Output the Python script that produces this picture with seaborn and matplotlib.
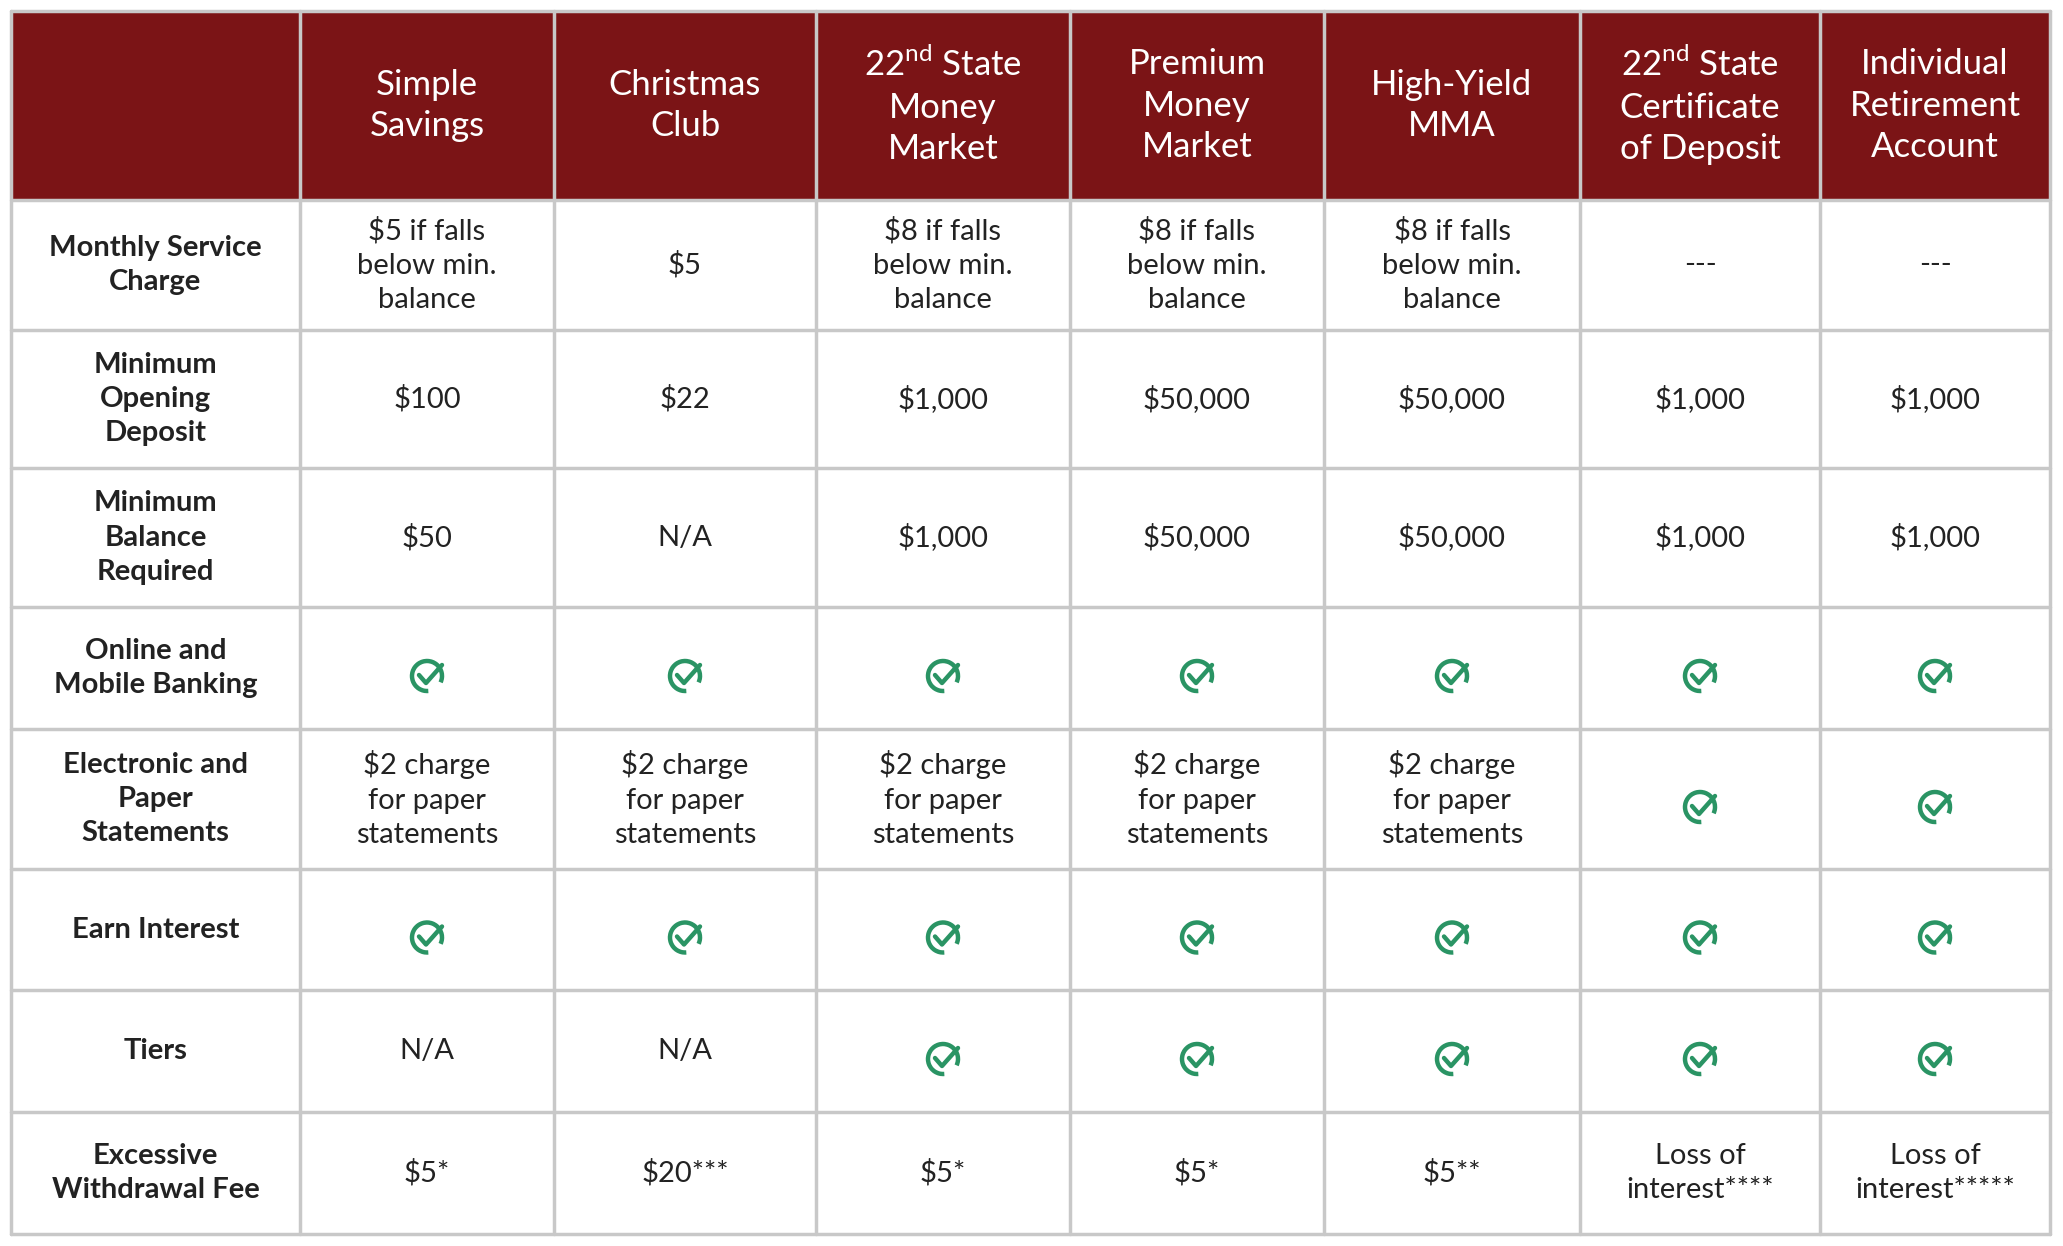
import matplotlib
matplotlib.use('Agg')
import matplotlib.pyplot as plt
import seaborn as sns
from matplotlib.patches import Rectangle, Arc

sns.set_style("white")
plt.rcParams['font.family'] = 'Lato'
plt.rcParams['mathtext.fontset'] = 'custom'
plt.rcParams['mathtext.rm'] = 'Lato'

# table content
columns = ["Simple\nSavings", "Christmas\nClub", "22$^{\\rm nd}$ State\nMoney\nMarket",
           "Premium\nMoney\nMarket", "High-Yield\nMMA", "22$^{\\rm nd}$ State\nCertificate\nof Deposit",
           "Individual\nRetirement\nAccount"]
row_labels = ["Monthly Service\nCharge", "Minimum\nOpening\nDeposit", "Minimum\nBalance\nRequired",
              "Online and\nMobile Banking", "Electronic and\nPaper\nStatements", "Earn Interest",
              "Tiers", "Excessive\nWithdrawal Fee"]
below = "$8 if falls\nbelow min.\nbalance"
paper = "$2 charge\nfor paper\nstatements"
CHECK = "check"
cells = [
    ["$5 if falls\nbelow min.\nbalance", "$5", below, below, below, "---", "---"],
    ["$100", "$22", "$1,000", "$50,000", "$50,000", "$1,000", "$1,000"],
    ["$50", "N/A", "$1,000", "$50,000", "$50,000", "$1,000", "$1,000"],
    [CHECK] * 7,
    [paper, paper, paper, paper, paper, CHECK, CHECK],
    [CHECK] * 7,
    ["N/A", "N/A", CHECK, CHECK, CHECK, CHECK, CHECK],
    ["$5*", "$20***", "$5*", "$5*", "$5**", "Loss of\ninterest****", "Loss of\ninterest*****"],
]

col_edges = [11, 300, 554, 816, 1070, 1324, 1580, 1820, 2050]
row_edges = [11, 200, 330, 468, 607, 729, 869, 990, 1112, 1234]

HEADER = "#7b1416"
GRID = "#c8c8c8"
GREEN = "#2a9464"
TEXT = "#222222"

fig = plt.figure(figsize=(20.63, 12.46), dpi=100)
ax = fig.add_axes([0, 0, 1, 1])
ax.set_xlim(0, 2063)
ax.set_ylim(1246, 0)
ax.axis('off')

ax.add_patch(Rectangle((col_edges[0], row_edges[0]), col_edges[-1] - col_edges[0],
                       row_edges[1] - row_edges[0], facecolor=HEADER, edgecolor='none'))
for x in col_edges:
    c = GRID if x in (col_edges[0], col_edges[-1]) else GRID
    ax.plot([x, x], [row_edges[0], row_edges[-1]], color=c, lw=2.5, zorder=3)
for y in row_edges:
    ax.plot([col_edges[0], col_edges[-1]], [y, y], color=GRID, lw=2.5, zorder=3)


def draw_check(cx, cy, r=15):
    ax.add_patch(Arc((cx, cy), 2 * r, 2 * r, theta1=-275, theta2=25,
                     color=GREEN, lw=3.2, zorder=4))
    ax.plot([cx - 8, cx - 1, cx + 15], [cy - 1, cy + 7, cy - 11], color=GREEN, lw=3.2,
            solid_capstyle='round', solid_joinstyle='round', zorder=4)


hy = (row_edges[0] + row_edges[1]) / 2
for j, name in enumerate(columns):
    cx = (col_edges[j + 1] + col_edges[j + 2]) / 2
    ax.text(cx, hy, name, ha='center', va='center', color='white', fontsize=25,
            linespacing=1.35)

for i, lab in enumerate(row_labels):
    cy = (row_edges[i + 1] + row_edges[i + 2]) / 2
    ax.text((col_edges[0] + col_edges[1]) / 2, cy, lab, ha='center', va='center',
            color=TEXT, fontsize=21, fontweight='bold', linespacing=1.4)
    for j, val in enumerate(cells[i]):
        cx = (col_edges[j + 1] + col_edges[j + 2]) / 2
        if val == CHECK:
            draw_check(cx, cy + 8)
        else:
            ax.text(cx, cy, val.replace("$", "\\$"), ha='center', va='center',
                    color=TEXT, fontsize=21, linespacing=1.4)

fig.savefig("out.png", dpi=100, facecolor='white')
